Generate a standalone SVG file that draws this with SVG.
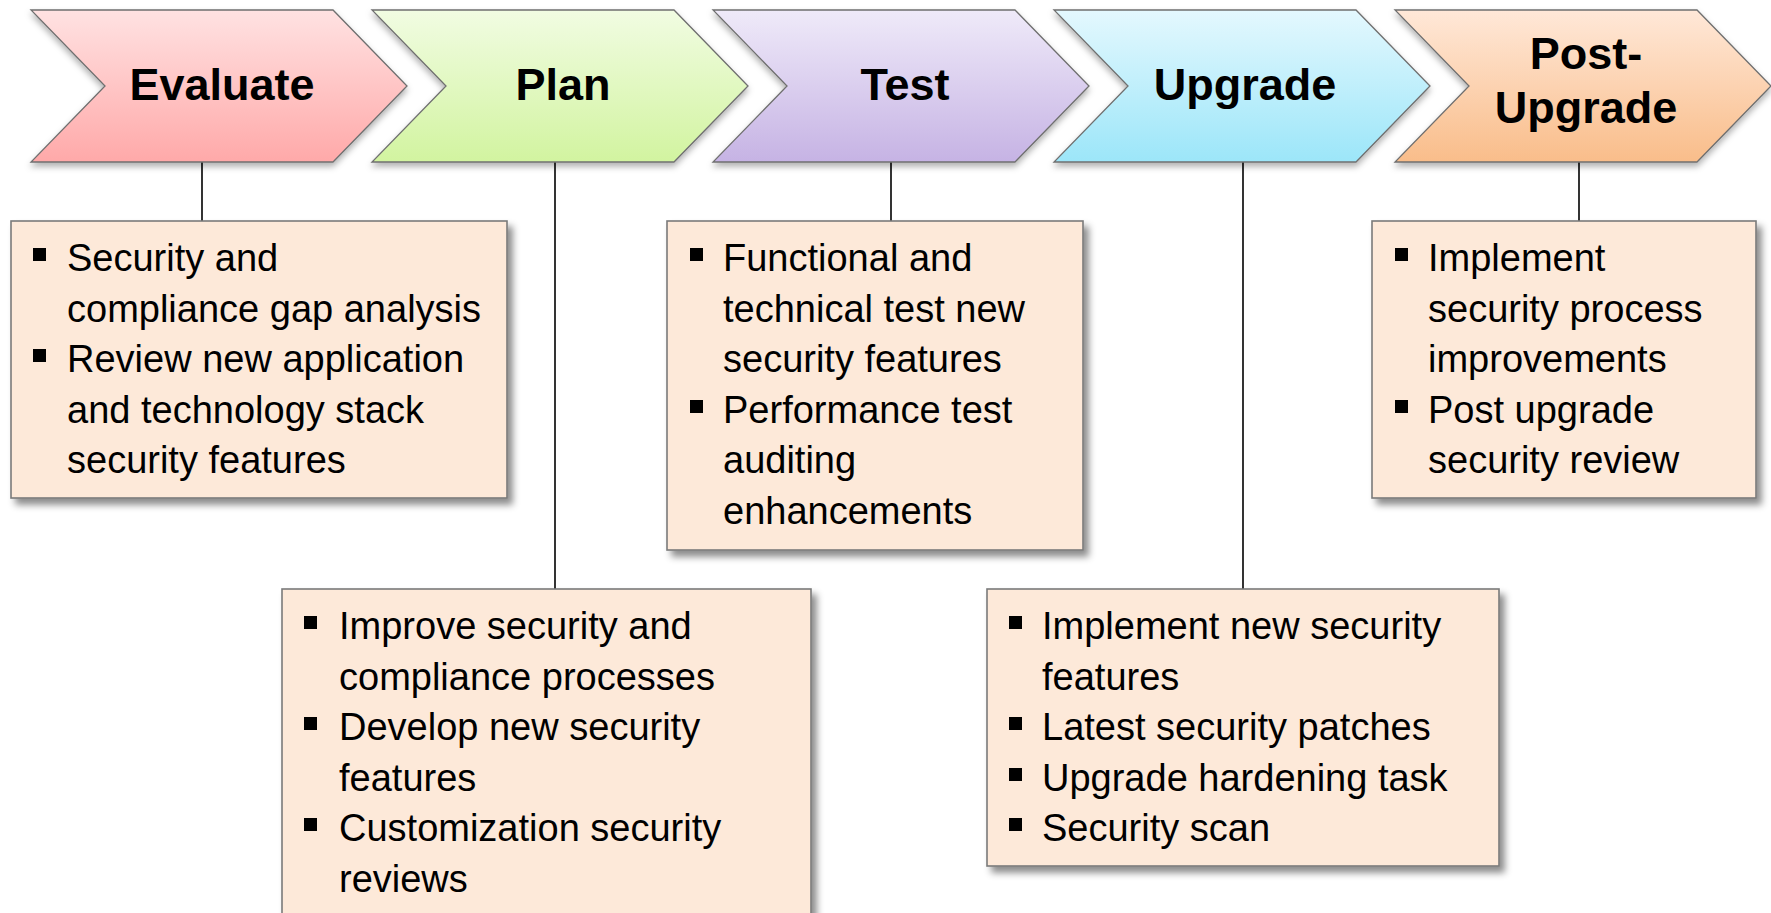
<svg xmlns="http://www.w3.org/2000/svg" width="1771" height="913" viewBox="0 0 1771 913">
  <style>
    .chev { stroke: #6f6f6f; stroke-width: 1.3; stroke-linejoin: miter; }
    .label { font-family: "Liberation Sans", Arial, sans-serif; font-weight: bold; font-size: 45px; fill: #000; text-anchor: middle; }
    .box { fill: #FDE9D9; stroke: #7a7a7a; stroke-width: 1.6; }
    .txt { font-family: "Liberation Sans", Arial, sans-serif; font-size: 38px; fill: #000; }
    .bul { fill: #000; }
    .conn { stroke: #000; stroke-width: 1.6; fill: none; }
  </style>
  <defs>
    <filter id="shadowBox" x="-10%" y="-10%" width="130%" height="130%">
      <feDropShadow dx="5" dy="6" stdDeviation="3.5" flood-color="#000" flood-opacity="0.45"/>
    </filter>
    <filter id="shadowChev" x="-10%" y="-10%" width="125%" height="140%">
      <feDropShadow dx="0" dy="4" stdDeviation="3" flood-color="#000" flood-opacity="0.3"/>
    </filter>
    <linearGradient id="gEval" x1="0" y1="0" x2="0" y2="1">
      <stop offset="0" stop-color="#FFE2E2"/>
      <stop offset="1" stop-color="#FFA9A9"/>
    </linearGradient>
    <linearGradient id="gPlan" x1="0" y1="0" x2="0" y2="1">
      <stop offset="0" stop-color="#F1FCE2"/>
      <stop offset="1" stop-color="#D2F4A0"/>
    </linearGradient>
    <linearGradient id="gTest" x1="0" y1="0" x2="0" y2="1">
      <stop offset="0" stop-color="#EFEAF9"/>
      <stop offset="1" stop-color="#C6B3E4"/>
    </linearGradient>
    <linearGradient id="gUpg" x1="0" y1="0" x2="0" y2="1">
      <stop offset="0" stop-color="#E4F8FE"/>
      <stop offset="1" stop-color="#9CE6F9"/>
    </linearGradient>
    <linearGradient id="gPost" x1="0" y1="0" x2="0" y2="1">
      <stop offset="0" stop-color="#FFE8D8"/>
      <stop offset="1" stop-color="#F9BD8A"/>
    </linearGradient>
  </defs>

  <!-- connectors -->
  <g id="connectors">
    <line class="conn" x1="202" y1="162" x2="202" y2="221"/>
    <line class="conn" x1="555" y1="162" x2="555" y2="589"/>
    <line class="conn" x1="891" y1="162" x2="891" y2="221"/>
    <line class="conn" x1="1243" y1="162" x2="1243" y2="589"/>
    <line class="conn" x1="1579" y1="162" x2="1579" y2="221"/>
  </g>

  <!-- stage chevrons -->
  <g id="stage-evaluate">
    <path class="chev" transform="translate(31,0)" d="M0,10 L302,10 L376,86 L302,162 L0,162 L74,86 Z" fill="url(#gEval)" filter="url(#shadowChev)"/>
    <text class="label" x="222" y="100">Evaluate</text>
  </g>
  <g id="stage-plan">
    <path class="chev" transform="translate(372,0)" d="M0,10 L302,10 L376,86 L302,162 L0,162 L74,86 Z" fill="url(#gPlan)" filter="url(#shadowChev)"/>
    <text class="label" x="563" y="100">Plan</text>
  </g>
  <g id="stage-test">
    <path class="chev" transform="translate(713,0)" d="M0,10 L302,10 L376,86 L302,162 L0,162 L74,86 Z" fill="url(#gTest)" filter="url(#shadowChev)"/>
    <text class="label" x="905" y="100">Test</text>
  </g>
  <g id="stage-upgrade">
    <path class="chev" transform="translate(1054,0)" d="M0,10 L302,10 L376,86 L302,162 L0,162 L74,86 Z" fill="url(#gUpg)" filter="url(#shadowChev)"/>
    <text class="label" x="1245" y="100">Upgrade</text>
  </g>
  <g id="stage-post-upgrade">
    <path class="chev" transform="translate(1395,0)" d="M0,10 L302,10 L376,86 L302,162 L0,162 L74,86 Z" fill="url(#gPost)" filter="url(#shadowChev)"/>
    <text class="label" x="1586" y="69">Post-</text>
    <text class="label" x="1586" y="123">Upgrade</text>
  </g>

  <!-- detail boxes -->
  <g id="box-evaluate">
    <rect class="box" x="11" y="221" width="496" height="277" filter="url(#shadowBox)"/>
    <rect class="bul" x="33" y="248" width="13" height="13"/>
    <rect class="bul" x="33" y="349" width="13" height="13"/>
    <text class="txt" x="67" y="271">Security and</text>
    <text class="txt" x="67" y="322">compliance gap analysis</text>
    <text class="txt" x="67" y="372">Review new application</text>
    <text class="txt" x="67" y="423">and technology stack</text>
    <text class="txt" x="67" y="473">security features</text>
  </g>

  <g id="box-plan">
    <rect class="box" x="282" y="589" width="529" height="340" filter="url(#shadowBox)"/>
    <rect class="bul" x="304" y="616" width="13" height="13"/>
    <rect class="bul" x="304" y="717" width="13" height="13"/>
    <rect class="bul" x="304" y="818" width="13" height="13"/>
    <text class="txt" x="339" y="639">Improve security and</text>
    <text class="txt" x="339" y="690">compliance processes</text>
    <text class="txt" x="339" y="740">Develop new security</text>
    <text class="txt" x="339" y="791">features</text>
    <text class="txt" x="339" y="841">Customization security</text>
    <text class="txt" x="339" y="892">reviews</text>
  </g>

  <g id="box-test">
    <rect class="box" x="667" y="221" width="416" height="329" filter="url(#shadowBox)"/>
    <rect class="bul" x="690" y="248" width="13" height="13"/>
    <rect class="bul" x="690" y="400" width="13" height="13"/>
    <text class="txt" x="723" y="271">Functional and</text>
    <text class="txt" x="723" y="322">technical test new</text>
    <text class="txt" x="723" y="372">security features</text>
    <text class="txt" x="723" y="423">Performance test</text>
    <text class="txt" x="723" y="473">auditing</text>
    <text class="txt" x="723" y="524">enhancements</text>
  </g>

  <g id="box-upgrade">
    <rect class="box" x="987" y="589" width="512" height="277" filter="url(#shadowBox)"/>
    <rect class="bul" x="1009" y="616" width="13" height="13"/>
    <rect class="bul" x="1009" y="717" width="13" height="13"/>
    <rect class="bul" x="1009" y="768" width="13" height="13"/>
    <rect class="bul" x="1009" y="818" width="13" height="13"/>
    <text class="txt" x="1042" y="639">Implement new security</text>
    <text class="txt" x="1042" y="690">features</text>
    <text class="txt" x="1042" y="740">Latest security patches</text>
    <text class="txt" x="1042" y="791">Upgrade hardening task</text>
    <text class="txt" x="1042" y="841">Security scan</text>
  </g>

  <g id="box-post-upgrade">
    <rect class="box" x="1372" y="221" width="384" height="277" filter="url(#shadowBox)"/>
    <rect class="bul" x="1395" y="248" width="13" height="13"/>
    <rect class="bul" x="1395" y="400" width="13" height="13"/>
    <text class="txt" x="1428" y="271">Implement</text>
    <text class="txt" x="1428" y="322">security process</text>
    <text class="txt" x="1428" y="372">improvements</text>
    <text class="txt" x="1428" y="423">Post upgrade</text>
    <text class="txt" x="1428" y="473">security review</text>
  </g>
</svg>
